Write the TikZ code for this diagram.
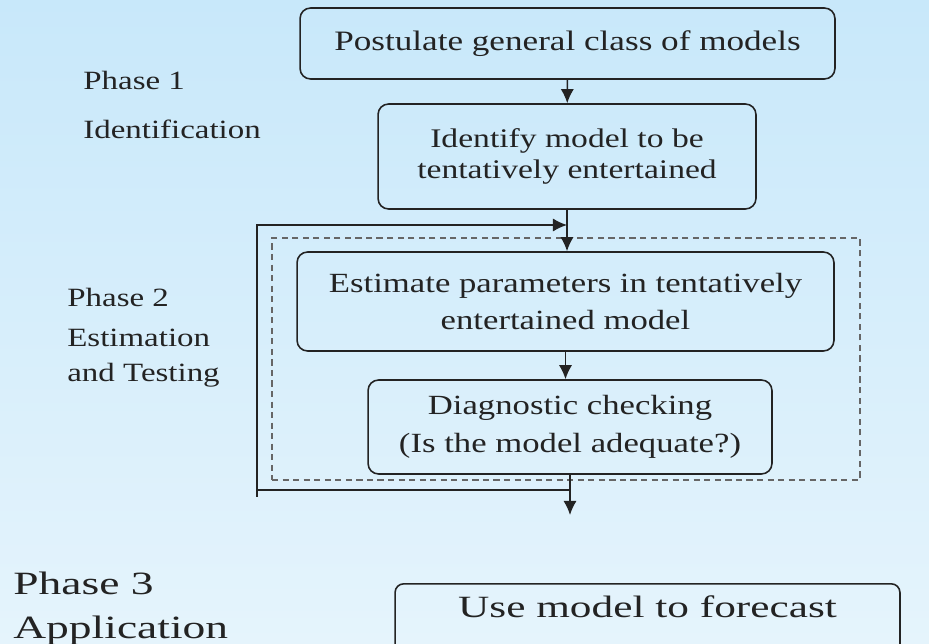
\documentclass[tikz,border=0pt]{standalone}
\usepackage{fontspec}
\setmainfont[FakeStretch=1.25]{Liberation Serif}
\newfontfamily\widefont[FakeStretch=1.4]{Liberation Serif}
\usetikzlibrary{positioning,arrows.meta}
\definecolor{bgtop}{RGB}{200,232,250}
\definecolor{bgbot}{RGB}{229,244,252}
\definecolor{ink}{RGB}{35,35,35}

\begin{document}
\begin{tikzpicture}[x=0.02cm,y=-0.02cm,
  every node/.style={text=ink},
  box/.style={draw=ink,line width=0.9pt,rounded corners=6pt,align=center,inner sep=0pt},
  frame/.style={draw=black!60,line width=0.9pt,dash pattern=on 3.5pt off 2.5pt,inner sep=0pt},
  arr/.style={draw=ink,line width=0.9pt,-{Latex[length=8pt,width=7.5pt]}},
  lab/.style={anchor=base west,inner sep=0pt,font=\fontsize{15}{18}\selectfont}]
\useasboundingbox (0,0) rectangle (929,644);
\clip (0,0) rectangle (929,644);
\shade[top color=bgtop,bottom color=bgbot] (0,0) rectangle (929,644);
% Phase 1: identification
\node[box,minimum width=10.7cm,minimum height=1.42cm,font=\fontsize{16}{20}\selectfont] (post) at (567.5,43.5) {Postulate general class of models};
\node[box,minimum width=7.56cm,minimum height=2.1cm,font=\fontsize{15.3}{17.6}\selectfont] (ident) at (567,156.5) {Identify model to be\\tentatively entertained};
\node[lab] (ph1) at (83,90) {Phase 1};
\node[lab] (ph1name) at (83,139) {Identification};
\draw[arr] (post) -- (ident);
% Phase 2: estimation and testing
\node[frame,minimum width=11.76cm,minimum height=4.84cm] (ph2box) at (566,359) {};
\node[box,minimum width=10.74cm,minimum height=1.98cm,font=\fontsize{15.8}{21.6}\selectfont] (estim) at (565.5,301.5) {Estimate parameters in tentatively\\entertained model};
\node[box,minimum width=8.08cm,minimum height=1.88cm,font=\fontsize{15.8}{21.6}\selectfont] (diag) at (570,427) {Diagnostic checking\\(Is the model adequate?)};
\node[lab] (ph2) at (67,307) {Phase 2};
\node[lab] (ph2name) at (67,347) {Estimation};
\node[lab] (ph2name2) at (67,382) {and Testing};
\coordinate (lb) at (257,490);
\coordinate (lt) at (257,225);
\coordinate (out) at (573,515);
\draw[arr] (ident.south) -- (ident.south |- estim.north);
\draw[arr] (estim.south) -- (estim.south |- diag.north);
\draw[arr] (diag.south) -- (diag.south |- out);
\draw[arr] (diag.south |- lb) -- (lb) -- (lt) -- (ident.south |- lt);
\draw[draw=ink,line width=0.9pt] (lb) -- ++(0,7);
% Phase 3: application
\node[box,rounded corners=5pt,anchor=north,minimum width=10.1cm,text height=0.68cm,text depth=1.2cm,font=\widefont\fontsize{17.6}{20}\selectfont] (use) at (647.5,583) {Use model to forecast};
\node[lab,font=\widefont\fontsize{18.5}{22}\selectfont] (ph3) at (13,594) {Phase 3};
\node[lab,font=\widefont\fontsize{18.5}{22}\selectfont] (ph3name) at (13,638) {Application};
\end{tikzpicture}
\end{document}
